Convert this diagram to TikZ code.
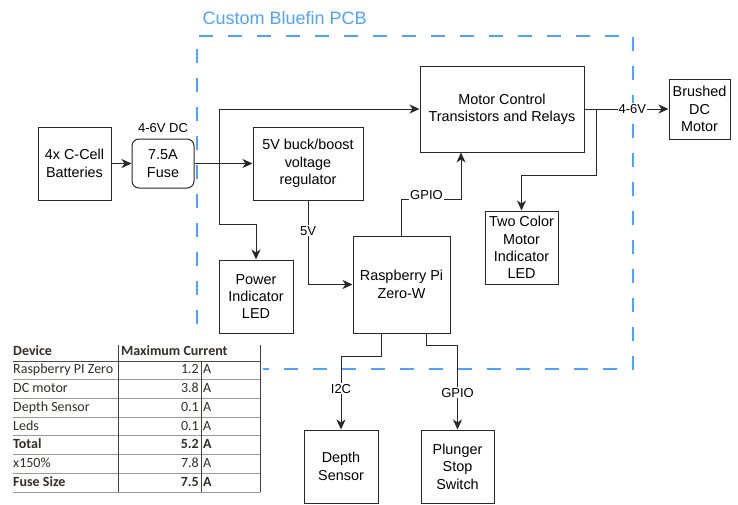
\documentclass[tikz,border=0pt]{standalone}
\usepackage{fontspec}
\setmainfont{Liberation Sans}
\newfontfamily\tabfont{Carlito}
\usepackage{xcolor}
\usetikzlibrary{arrows.meta,positioning,calc}
\definecolor{pcbblue}{RGB}{77,163,255}
\definecolor{tabtext}{RGB}{50,46,42}
\definecolor{ink}{RGB}{40,40,40}

\begin{document}
\begin{tikzpicture}[
  x=1pt, y=-1pt,
  font=\fontsize{14.4}{17.4}\selectfont,
  bx/.style={draw=ink, line width=1pt, align=center, inner sep=0pt,
    minimum width=73pt, minimum height=73pt},
  arr/.style={-{Stealth[length=10pt,width=9pt,inset=3pt]}, draw=ink, line width=1pt},
  lbl/.style={font=\fontsize{13}{15}\selectfont, fill=white, inner sep=1pt},
  pcb/.style={draw=pcbblue, line width=1.6pt, dash pattern=on 14pt off 15pt},
  cell/.style={font=\tabfont\fontsize{14}{15}\selectfont, text=tabtext,
    inner sep=0pt, text height=9pt, text depth=2.5pt},
  hline/.style={line width=0.8pt, draw=black!40},
  vline/.style={line width=1pt, draw=black!75}
]
\useasboundingbox (0,0) rectangle (738,504);

% board outline
\node[pcb, minimum width=436pt, minimum height=333pt] (board) at (415,202.5) {};
\node[text=pcbblue, font=\fontsize{18}{20}\selectfont, anchor=west] (title) at (199,18) {Custom Bluefin PCB};

\node[bx] (bat) at (74.5,163.5) {4x C-Cell\\Batteries};
\node[bx, rounded corners=7pt, minimum width=62pt, minimum height=49pt, right=20pt of bat] (fuse) {7.5A\\Fuse};
\node[lbl, fill=none, above=5pt of fuse] (dc) {4-6V DC};
\node[bx, minimum width=110pt, right=58pt of fuse] (reg) {5V buck/boost\\voltage\\regulator};
\node[bx, minimum width=74pt] (pled) at (256,296.5) {Power\\Indicator\\LED};
\node[bx, minimum width=97pt, minimum height=97pt] (rpi) at (401.5,284.5) {Raspberry Pi\\Zero-W};
\node[bx, minimum width=164pt, minimum height=86pt] (mc) at (502,109) {Motor Control\\Transistors and Relays};
\node[bx] (tled) at (521.5,247.5) {Two Color\\Motor\\Indicator\\LED};
\node[bx, minimum width=61pt, minimum height=60pt, right=84pt of mc] (motor) {Brushed\\DC\\Motor};
\node[bx, minimum width=74pt] (depth) at (341,466.5) {Depth\\Sensor};
\node[bx, right=42pt of depth] (plunger) {Plunger\\Stop\\Switch};

\coordinate (j1) at (219,163.5);
\coordinate (j2) at ([xshift=12pt]mc.east);

\draw[arr] (bat) -- (fuse);
\draw[arr] (fuse) -- (reg);
\draw[arr] (j1) |- (mc.west);
\draw[arr] (j1) -- ++(0,60.5) -| (pled.north);
\draw[arr] (reg.south) |- (rpi.west) node[lbl, pos=0.18] {5V};
\draw[arr] (rpi.north) -- ++(0,-36) -| ([xshift=-41pt]mc.south) node[lbl, pos=0.21, anchor=base] {GPIO};
\draw[arr] (mc.east) -- (motor.west) node[lbl, pos=0.57] {4-6V};
\draw[arr] (j2) -- ++(0,66) -| (tled.north);
\draw[arr] ([xshift=-20.5pt]rpi.south) -- ++(0,23) -| (depth.north) node[lbl, pos=0.72] {I2C};
\draw[arr] ([xshift=24.5pt]rpi.south) -- ++(0,12) -| (plunger.north) node[lbl, pos=0.78] {GPIO};

% current budget table
\fill[white] (8,338) rectangle (263,495);
\node[cell, font=\tabfont\bfseries\fontsize{14}{15}\selectfont, anchor=west] (hdev) at (13,352) {Device};
\node[cell, font=\tabfont\bfseries\fontsize{14}{15}\selectfont, anchor=west] (hcur) at (121,352) {Maximum Current};
\draw[hline, draw=black!70] (13,361) -- (260,361);
\foreach \dev/\val/\wt [count=\i] in {Raspberry PI Zero/1.2/\mdseries, DC motor/3.8/\mdseries,
    Depth Sensor/0.1/\mdseries, Leds/0.1/\mdseries, Total/5.2/\bfseries,
    x150\%/7.8/\mdseries, Fuse Size/7.5/\bfseries} {
  \node[cell, anchor=west] (dev\i) at (13,352+18.7*\i) {\wt\dev};
  \node[cell, anchor=east] (val\i) at (199,352+18.7*\i) {\wt\val};
  \node[cell, anchor=west] (unit\i) at (203,352+18.7*\i) {\wt A};
  \draw[hline] (13,361+18.7*\i) -- (260,361+18.7*\i);
}
\draw[vline] (118,345) -- (118,492);
\draw[vline] (201,361) -- (201,492);
\draw[vline] (260,345) -- (260,492);
\end{tikzpicture}
\end{document}
